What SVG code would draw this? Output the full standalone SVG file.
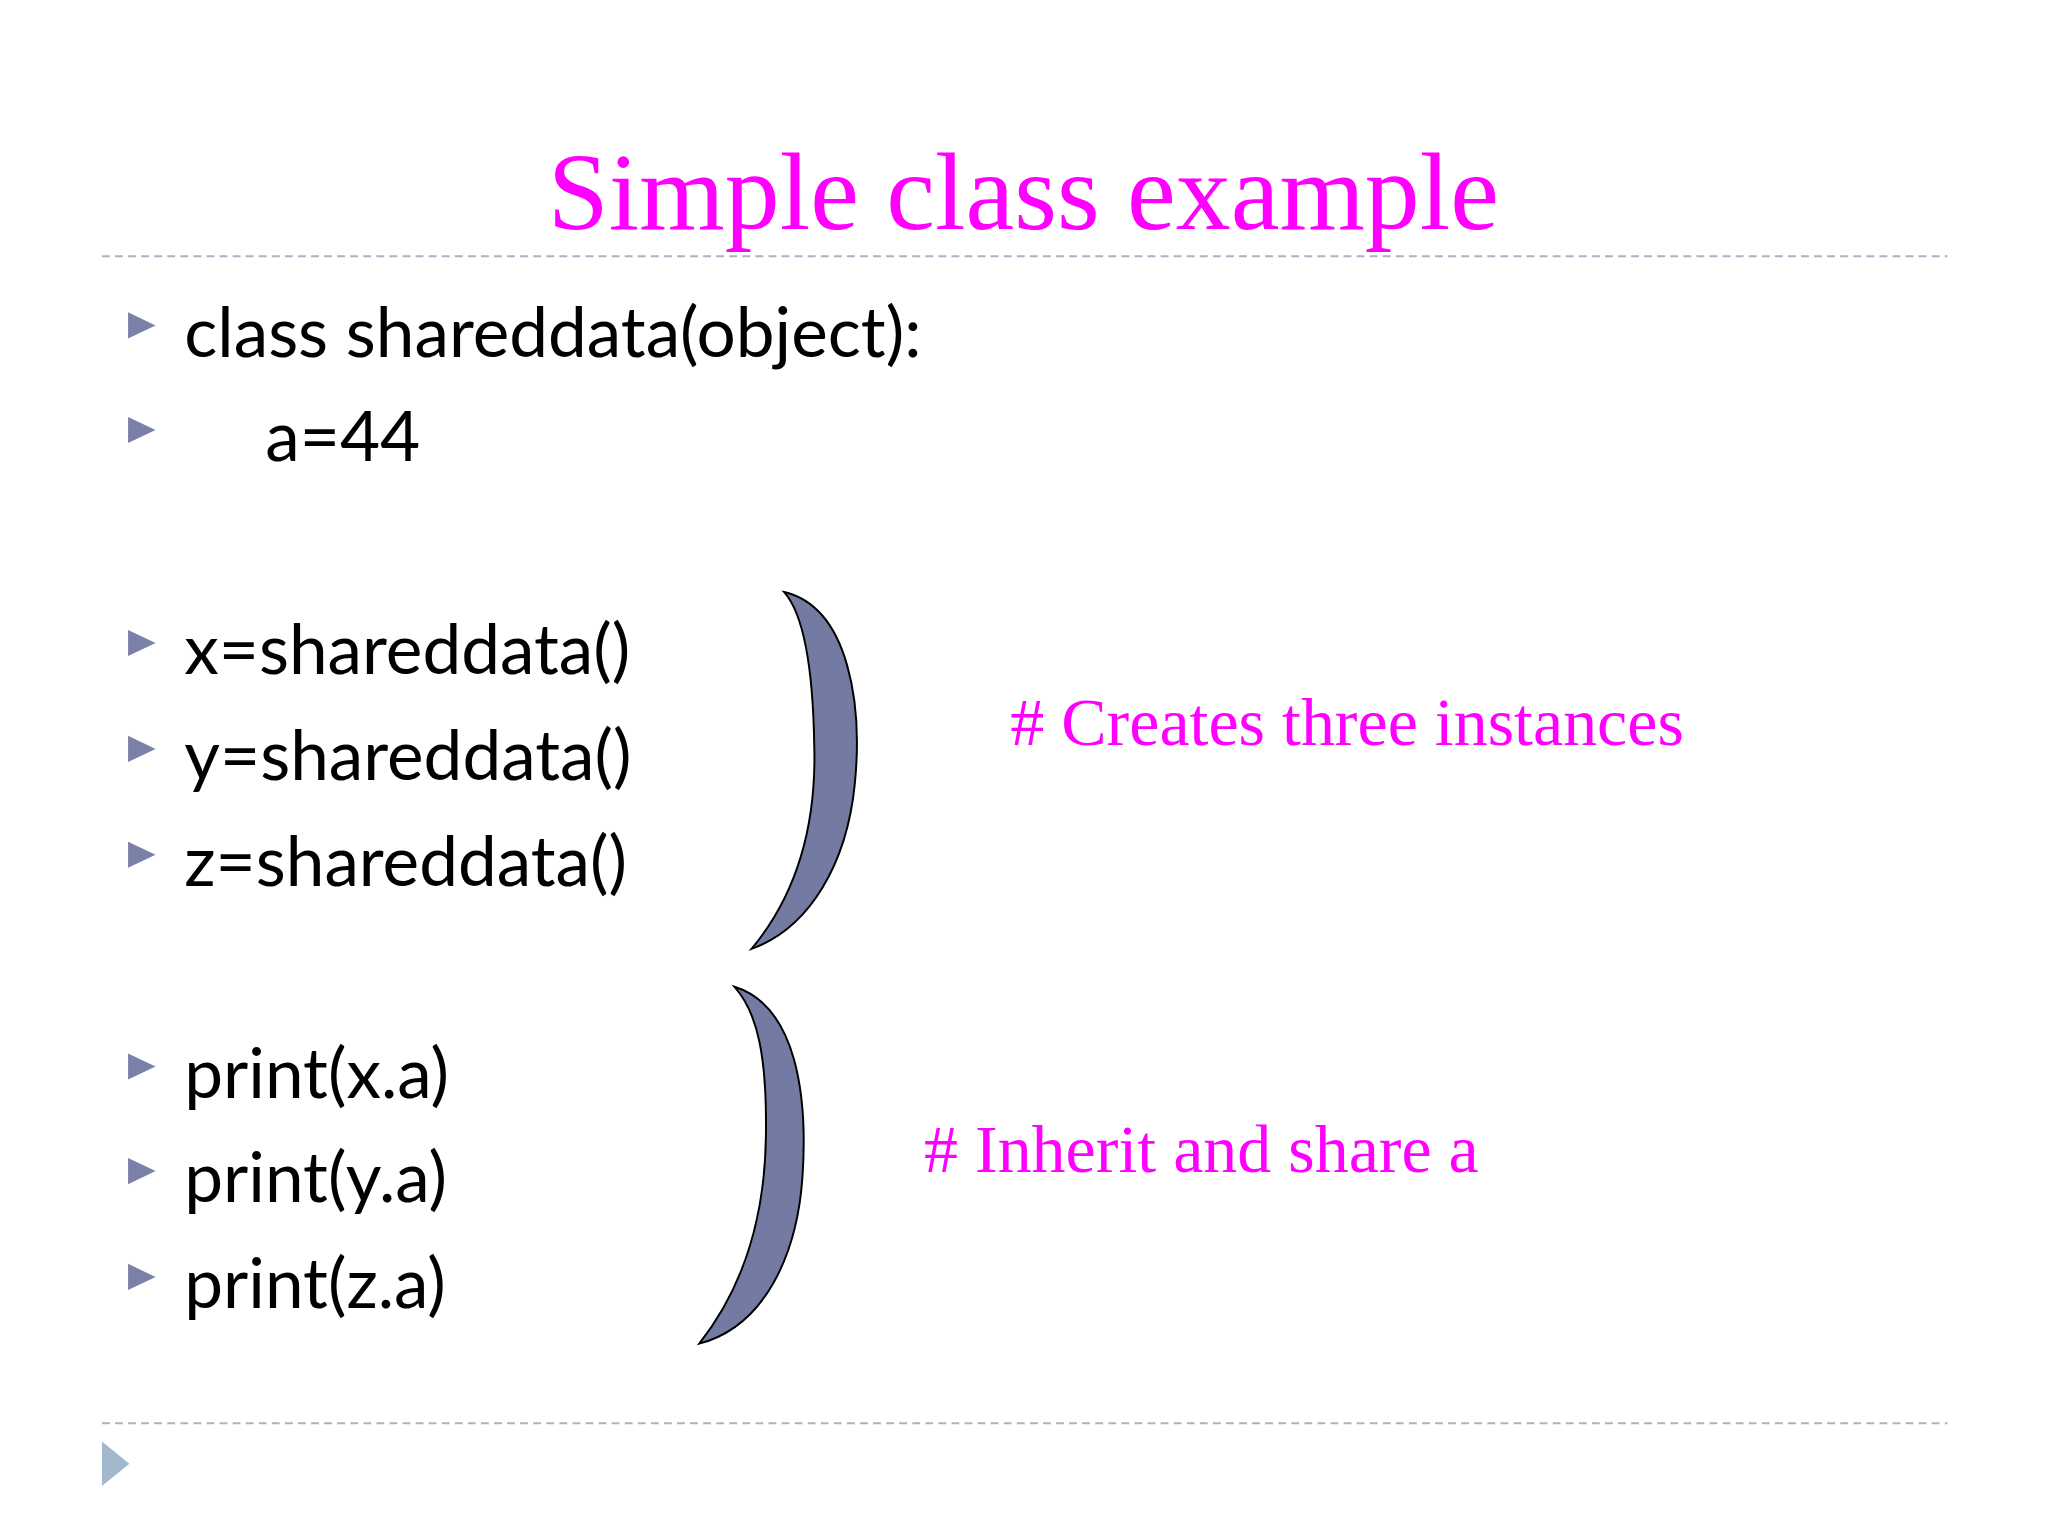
<svg xmlns="http://www.w3.org/2000/svg" width="2048" height="1536" viewBox="0 0 2048 1536">
<style>
.code{font-family:Lato,"Open Sans",sans-serif;font-size:53px;fill:#000}
.pink{font-family:"Liberation Serif",serif;fill:#ff00ff}
.bul{fill:#7b80a8}
.dash{stroke:#a8b4c4;stroke-width:1.5;stroke-dasharray:6 4}
.brk{fill:#737ba3;stroke:#000;stroke-width:1.5}
</style>
<rect width="2048" height="1536" fill="#fff"/>
<g transform="scale(1.307)">
<g id="title"><text class="pink" x="783" y="175" font-size="84" text-anchor="middle">Simple class example</text></g>
<g id="rules"><line class="dash" x1="78" y1="196" x2="1490" y2="196"/><line class="dash" x1="78" y1="1089" x2="1490" y2="1089"/>
<polygon points="78,1103 99,1120 78,1137" fill="#a3b8cc"/></g>
<g id="code">
<polygon class="bul" points="98,239 119,249 98,259"/><text class="code" x="141" y="273">class shareddata(object):</text>
<polygon class="bul" points="98,319 119,329 98,339"/><text class="code" x="203" y="353">a=44</text>
<polygon class="bul" points="98,482 119,492 98,502"/><text class="code" x="141" y="516">x=shareddata()</text>
<polygon class="bul" points="98,563 119,573 98,583"/><text class="code" x="141" y="597">y=shareddata()</text>
<polygon class="bul" points="98,644 119,654 98,664"/><text class="code" x="141" y="678">z=shareddata()</text>
<polygon class="bul" points="98,806 119,816 98,826"/><text class="code" x="141" y="840">print(x.a)</text>
<polygon class="bul" points="98,886 119,896 98,906"/><text class="code" x="141" y="920">print(y.a)</text>
<polygon class="bul" points="98,967 119,977 98,987"/><text class="code" x="141" y="1001">print(z.a)</text>
</g>
<g id="brace1"><path class="brk" d="M600,453 C650,465 660,540 654,600 C648,660 620,710 575,726 C605,690 625,640 623,570 C622,510 615,470 600,453 Z"/></g>
<g id="brace2"><path class="brk" d="M562,755 C610,770 618,840 614,900 C610,960 585,1015 535,1028 C565,990 585,940 586,870 C587,810 580,775 562,755 Z"/></g>
<g id="labels">
<text class="pink" x="773" y="570" font-size="52">#  Creates three instances</text>
<text class="pink" x="707" y="897" font-size="52">#  Inherit and share a</text>
</g>
</g>
</svg>
